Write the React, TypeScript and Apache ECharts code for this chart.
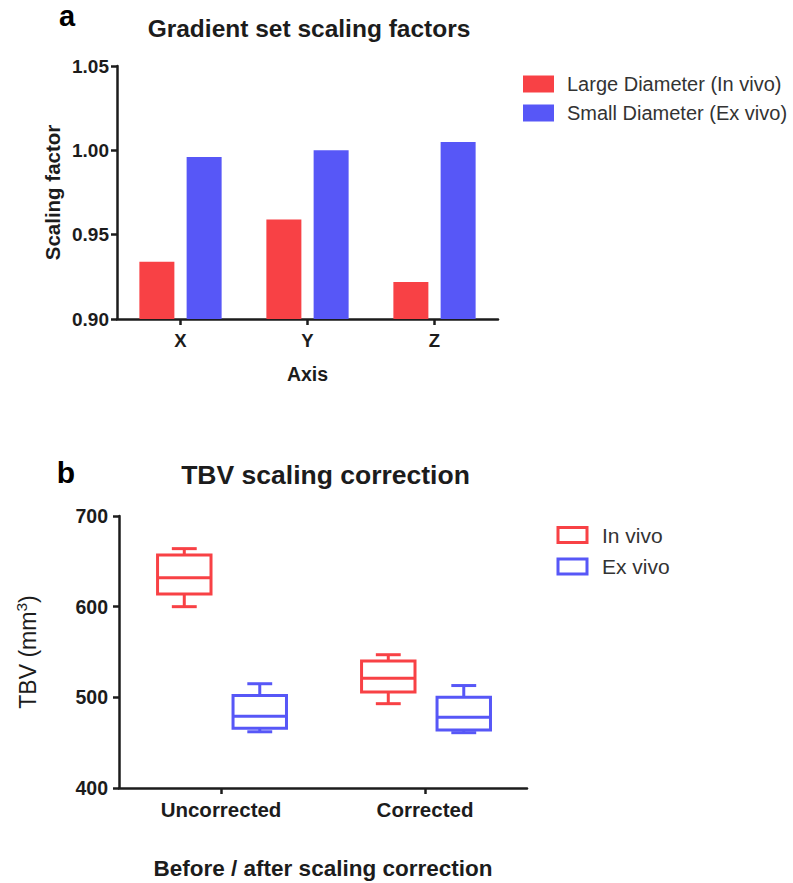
import React, { useEffect, useRef } from "react";
import * as echarts from "echarts";

// ---- Panel a data ----
const axisCategories = ["X", "Y", "Z"];
const largeDiameterInVivo = [0.934, 0.959, 0.922];
const smallDiameterExVivo = [0.996, 1.0, 1.005];
const scalingMin = 0.9;
const scalingMax = 1.05;
const scalingStep = 0.05;

// ---- Panel b data: [min, Q1, median, Q3, max] ----
const correctionGroups = ["Uncorrected", "Corrected"];
const inVivoBoxes = [
  [600, 614, 632, 657, 664],
  [493, 506, 521, 540, 547],
];
const exVivoBoxes = [
  [462, 466, 479, 502, 515],
  [461, 464, 478, 500, 513],
];
const tbvMin = 400;
const tbvMax = 700;
const tbvStep = 100;

const RED = "#F84145";
const BLUE = "#5757F7";
const INK = "#1c1c1c";
const FONT = "'Liberation Sans', Arial, sans-serif";

function boxRenderer(color: string, offsetFrac: number) {
  return (params: any, api: any) => {
    const cat = api.value(0);
    const v = [1, 2, 3, 4, 5].map((i) => api.value(i));
    const band = api.size([1, 0])[0];
    const cx = api.coord([cat, v[0]])[0] + band * offsetFrac;
    const y = v.map((val: number) => api.coord([cat, val])[1]);
    const boxW = band * 0.262;
    const capW = band * 0.122;
    const st = { stroke: color, lineWidth: 3, fill: null };
    return {
      type: "group",
      children: [
        { type: "line", shape: { x1: cx, y1: y[4], x2: cx, y2: y[3] }, style: st },
        { type: "line", shape: { x1: cx - capW / 2, y1: y[4], x2: cx + capW / 2, y2: y[4] }, style: st },
        { type: "line", shape: { x1: cx, y1: y[1], x2: cx, y2: y[0] }, style: st },
        { type: "line", shape: { x1: cx - capW / 2, y1: y[0], x2: cx + capW / 2, y2: y[0] }, style: st },
        {
          type: "rect",
          shape: { x: cx - boxW / 2, y: y[3], width: boxW, height: y[1] - y[3] },
          style: { stroke: color, lineWidth: 3, fill: "#fff" },
        },
        { type: "line", shape: { x1: cx - boxW / 2, y1: y[2], x2: cx + boxW / 2, y2: y[2] }, style: st },
      ],
    };
  };
}

export default function App() {
  const ref = useRef<HTMLDivElement>(null);

  useEffect(() => {
    if (!ref.current) return;
    const chart = echarts.init(ref.current, null, { renderer: "svg" });

    const axisLine = { show: true, lineStyle: { color: INK, width: 2.5 } };
    const axisTick = { show: true, length: 6, lineStyle: { color: INK, width: 2.5 } };

    const option: any = {
      animation: false,
      backgroundColor: "#fff",
      textStyle: { fontFamily: FONT },
      title: [
        {
          text: "Gradient set scaling factors",
          left: 309,
          top: 28,
          padding: 0,
          textAlign: "center",
          textVerticalAlign: "middle",
          textStyle: { fontSize: 24.5, fontWeight: "bold", color: INK, fontFamily: FONT },
        },
        {
          text: "TBV scaling correction",
          left: 325.5,
          top: 475,
          padding: 0,
          textAlign: "center",
          textVerticalAlign: "middle",
          textStyle: { fontSize: 26.5, fontWeight: "bold", color: INK, fontFamily: FONT },
        },
        {
          text: "a",
          left: 67,
          top: 16,
          padding: 0,
          textAlign: "center",
          textVerticalAlign: "middle",
          textStyle: { fontSize: 29, lineHeight: 22, fontWeight: "bold", color: "#000", fontFamily: FONT },
        },
        {
          text: "b",
          left: 66,
          top: 472,
          padding: 0,
          textAlign: "center",
          textVerticalAlign: "middle",
          textStyle: { fontSize: 30, fontWeight: "bold", color: "#000", fontFamily: FONT },
        },
      ],
      legend: [
        {
          data: ["Large Diameter (In vivo)", "Small Diameter (Ex vivo)"],
          orient: "vertical",
          left: 523,
          top: 74,
          padding: 0,
          itemWidth: 31,
          itemHeight: 17,
          itemGap: 9,
          icon: "rect",
          selectedMode: false,
          textStyle: { fontSize: 20, color: "#333", fontFamily: FONT, padding: [0, 0, 0, 8] },
        },
        {
          data: [
            { name: "In vivo", icon: "rect", itemStyle: { color: "#fff", borderColor: RED, borderWidth: 3 } },
            { name: "Ex vivo", icon: "rect", itemStyle: { color: "#fff", borderColor: BLUE, borderWidth: 3 } },
          ],
          orient: "vertical",
          left: 556.5,
          top: 524.5,
          padding: 0,
          itemWidth: 29,
          itemHeight: 15,
          itemGap: 10.5,
          selectedMode: false,
          textStyle: { fontSize: 21, color: "#333", fontFamily: FONT, padding: [0, 0, 0, 10] },
        },
      ],
      grid: [
        { left: 117, top: 66, width: 381, height: 253, containLabel: false },
        { left: 119, top: 516, width: 408, height: 272, containLabel: false },
      ],
      xAxis: [
        {
          type: "category",
          gridIndex: 0,
          data: axisCategories,
          name: "Axis",
          nameLocation: "middle",
          nameGap: 45,
          nameTextStyle: { fontSize: 19.5, fontWeight: "bold", color: INK, fontFamily: FONT },
          axisLine,
          axisTick: { ...axisTick, alignWithLabel: true },
          axisLabel: { fontSize: 18.5, fontWeight: "bold", color: INK, margin: 12, fontFamily: FONT },
          splitLine: { show: false },
        },
        {
          type: "category",
          gridIndex: 1,
          data: correctionGroups,
          name: "Before / after scaling correction",
          nameLocation: "middle",
          nameGap: 69,
          nameTextStyle: { fontSize: 22.5, fontWeight: "bold", color: INK, fontFamily: FONT },
          axisLine,
          axisTick: { ...axisTick, alignWithLabel: true },
          axisLabel: { fontSize: 20.5, fontWeight: "bold", color: INK, margin: 11, fontFamily: FONT },
          splitLine: { show: false },
        },
      ],
      yAxis: [
        {
          type: "value",
          gridIndex: 0,
          min: scalingMin,
          max: scalingMax,
          interval: scalingStep,
          name: "Scaling factor",
          nameLocation: "middle",
          nameRotate: 90,
          nameGap: 54,
          nameTextStyle: { fontSize: 20.5, fontWeight: "bold", color: INK, fontFamily: FONT },
          axisLine,
          axisTick,
          axisLabel: {
            fontSize: 19,
            fontWeight: "bold",
            color: INK,
            margin: 8,
            fontFamily: FONT,
            formatter: (v: number) => v.toFixed(2),
          },
          splitLine: { show: false },
        },
        {
          type: "value",
          gridIndex: 1,
          min: tbvMin,
          max: tbvMax,
          interval: tbvStep,
          name: "{a|TBV (mm}{s|3}{a|)}",
          nameLocation: "middle",
          nameRotate: 90,
          nameGap: 76,
          nameTextStyle: {
            rich: {
              a: { fontSize: 23, color: INK, fontFamily: FONT, lineHeight: 30 },
              s: { fontSize: 15.5, color: INK, fontFamily: FONT, lineHeight: 15, verticalAlign: "top" },
            },
          },
          axisLine,
          axisTick,
          axisLabel: { fontSize: 19.5, fontWeight: "bold", color: INK, margin: 11, fontFamily: FONT },
          splitLine: { show: false },
        },
      ],
      series: [
        {
          name: "Large Diameter (In vivo)",
          type: "bar",
          xAxisIndex: 0,
          yAxisIndex: 0,
          data: largeDiameterInVivo,
          barWidth: 35,
          barGap: "35%",
          itemStyle: { color: RED },
        },
        {
          name: "Small Diameter (Ex vivo)",
          type: "bar",
          xAxisIndex: 0,
          yAxisIndex: 0,
          data: smallDiameterExVivo,
          barWidth: 35,
          barGap: "35%",
          itemStyle: { color: BLUE },
        },
        {
          name: "In vivo",
          type: "custom",
          xAxisIndex: 1,
          yAxisIndex: 1,
          itemStyle: { color: RED },
          encode: { x: 0, y: [1, 2, 3, 4, 5] },
          renderItem: boxRenderer(RED, -0.18),
          data: inVivoBoxes.map((b, i) => [i, ...b]),
        },
        {
          name: "Ex vivo",
          type: "custom",
          xAxisIndex: 1,
          yAxisIndex: 1,
          itemStyle: { color: BLUE },
          encode: { x: 0, y: [1, 2, 3, 4, 5] },
          renderItem: boxRenderer(BLUE, 0.19),
          data: exVivoBoxes.map((b, i) => [i, ...b]),
        },
      ],
    };

    chart.setOption(option);
    return () => chart.dispose();
  }, []);

  return (
    <div
      ref={ref}
      style={{ position: "fixed", left: 0, top: 0, width: 793, height: 883, background: "#fff" }}
    />
  );
}
